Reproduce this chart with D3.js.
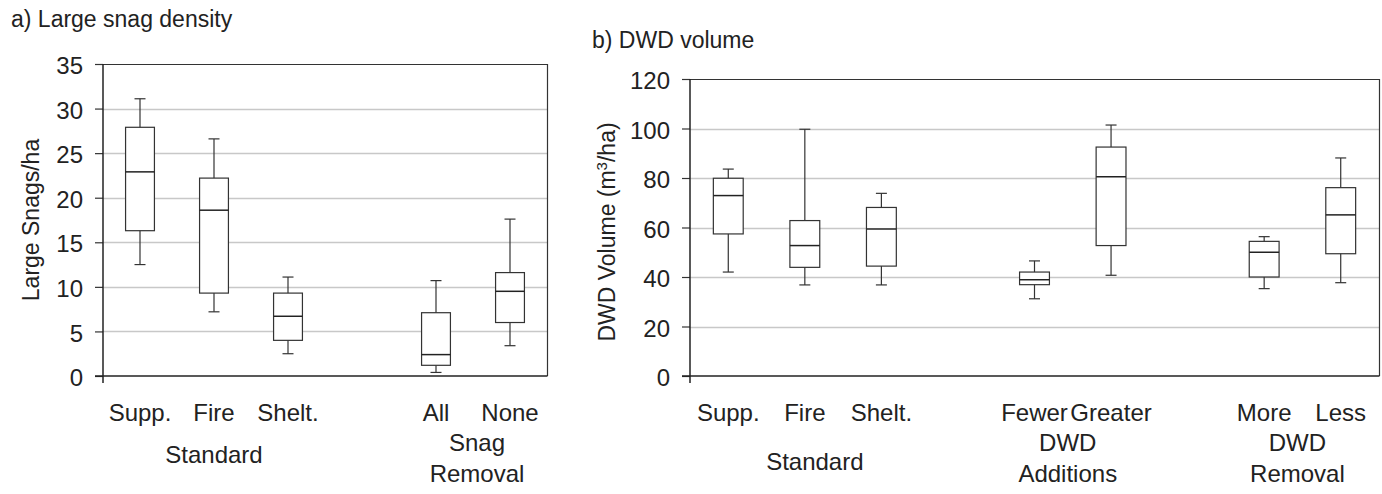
<!DOCTYPE html>
<html>
<head>
<meta charset="utf-8">
<script src="https://cdn.jsdelivr.net/npm/d3@7"></script>
<style>
  body { margin: 0; background: #fff; }
  text { font-family: Arial, "Liberation Sans", sans-serif; fill: #222; }
</style>
</head>
<body>
<div id="chart"></div>
<script>
// a) large snag density
var snagCats = ['Supp.', 'Fire', 'Shelt.', 'All', 'None']
var snagGroupOf = [0, 0, 0, 1, 1]
var snagGroups = [['Standard'], ['Snag', 'Removal']]
var snagMin = [12.5, 7.2, 2.5, 0.4, 3.4]
var snagQ1 = [16.3, 9.3, 4.0, 1.2, 6.0]
var snagMed = [22.9, 18.6, 6.7, 2.4, 9.5]
var snagQ3 = [27.9, 22.2, 9.3, 7.1, 11.6]
var snagMax = [31.1, 26.6, 11.1, 10.7, 17.6]
var snagTicks = [0, 5, 10, 15, 20, 25, 30, 35]

// b) DWD volume
var dwdCats = ['Supp.', 'Fire', 'Shelt.', 'Fewer', 'Greater', 'More', 'Less']
var dwdGroupOf = [0, 0, 0, 1, 1, 2, 2]
var dwdGroups = [['Standard'], ['DWD', 'Additions'], ['DWD', 'Removal']]
var dwdMin = [42.0, 36.8, 36.8, 31.2, 40.7, 35.3, 37.7]
var dwdQ1 = [57.4, 43.9, 44.4, 36.9, 52.7, 40.0, 49.4]
var dwdMed = [72.9, 52.7, 59.4, 38.9, 80.5, 50.0, 65.1]
var dwdQ3 = [79.9, 62.8, 68.1, 42.0, 92.5, 54.4, 76.1]
var dwdMax = [83.6, 99.7, 73.8, 46.5, 101.4, 56.3, 88.1]
var dwdTicks = [0, 20, 40, 60, 80, 100, 120]

var svg = d3.select('#chart').append('svg')
  .attr('width', 1382)
  .attr('height', 494)

function drawBoxPanel(p) {
  // slot domain with an empty slot between groups
  var slots = []
  p.cats.forEach(function(c, i) {
    if (i > 0 && p.groupOf[i] != p.groupOf[i - 1]) slots.push('gap' + i)
    slots.push(c)
  })

  var x = d3.scaleBand().domain(slots).range([p.left, p.right])
  var y = d3.scaleLinear().domain([0, d3.max(p.ticks)]).range([p.bottom, p.top])
  var boxW = x.bandwidth() * 0.39
  var capW = 11

  var data = p.cats.map(function(c, i) {
    return { cat: c, min: p.min[i], q1: p.q1[i], med: p.med[i], q3: p.q3[i], max: p.max[i] }
  })

  var g = svg.append('g')

  // gridlines
  g.selectAll('.grid')
    .data(p.ticks.slice(1, -1))
    .enter().append('line')
    .attr('x1', p.left).attr('x2', p.right)
    .attr('y1', d => Math.round(y(d)) + 0.5).attr('y2', d => Math.round(y(d)) + 0.5)
    .attr('stroke', '#c8c8c8').attr('stroke-width', 1.3)

  // frame top + right
  g.append('path')
    .attr('d', 'M' + p.left + ',' + (Math.round(p.top) + 0.5) + 'H' + (p.right + 0.5) + 'V' + p.bottom)
    .attr('fill', 'none').attr('stroke', '#333').attr('stroke-width', 1.2)

  // y axis
  var yAxis = d3.axisLeft(y).tickValues(p.ticks).tickSize(8).tickPadding(12).tickFormat(d3.format('d'))
  var ya = g.append('g')
    .attr('transform', 'translate(' + p.left + ',0)')
    .call(yAxis)
  ya.select('.domain').remove()
  ya.selectAll('.tick line').attr('stroke', '#333').attr('stroke-width', 1.2)
  ya.selectAll('.tick text').style('font-size', '24px').attr('fill', '#222').attr('dy', '0.4em')
  g.append('line')
    .attr('x1', p.left).attr('x2', p.left)
    .attr('y1', p.top).attr('y2', p.bottom + 7)
    .attr('stroke', '#222').attr('stroke-width', 1.5)

  // x axis line
  g.append('line')
    .attr('x1', p.left - 8).attr('x2', p.right + 0.5)
    .attr('y1', p.bottom).attr('y2', p.bottom)
    .attr('stroke', '#222').attr('stroke-width', 1.5)

  // boxes
  var box = g.selectAll('.box')
    .data(data)
    .enter().append('g')
    .attr('class', 'box')
    .attr('transform', d => 'translate(' + (x(d.cat) + x.bandwidth() / 2) + ',0)')

  box.append('line')
    .attr('x1', 0).attr('x2', 0)
    .attr('y1', d => y(d.max)).attr('y2', d => y(d.min))
    .attr('stroke', '#333').attr('stroke-width', 1.2)
  box.append('line')
    .attr('x1', -capW / 2).attr('x2', capW / 2)
    .attr('y1', d => y(d.max)).attr('y2', d => y(d.max))
    .attr('stroke', '#333').attr('stroke-width', 1.2)
  box.append('line')
    .attr('x1', -capW / 2).attr('x2', capW / 2)
    .attr('y1', d => y(d.min)).attr('y2', d => y(d.min))
    .attr('stroke', '#333').attr('stroke-width', 1.2)
  box.append('rect')
    .attr('x', -boxW / 2).attr('width', boxW)
    .attr('y', d => y(d.q3)).attr('height', d => y(d.q1) - y(d.q3))
    .attr('fill', '#fff').attr('stroke', '#333').attr('stroke-width', 1.2)
  box.append('line')
    .attr('x1', -boxW / 2).attr('x2', boxW / 2)
    .attr('y1', d => y(d.med)).attr('y2', d => y(d.med))
    .attr('stroke', '#222').attr('stroke-width', 1.5)

  // category labels
  g.selectAll('.cat')
    .data(p.cats)
    .enter().append('text')
    .attr('x', d => x(d) + x.bandwidth() / 2)
    .attr('y', 421)
    .attr('text-anchor', 'middle')
    .style('font-size', '24px')
    .text(d => d)

  // group labels
  p.groups.forEach(function(lines, gi) {
    var members = p.cats.filter((c, i) => p.groupOf[i] == gi)
    var cx = d3.mean(members, c => x(c) + x.bandwidth() / 2) + (p.groupShift[gi] || 0)
    var t = g.append('text')
      .attr('text-anchor', 'middle')
      .style('font-size', '24px')
    if (lines.length == 1) {
      t.attr('x', cx).attr('y', p.singleY).text(lines[0])
    } else {
      lines.forEach(function(l, li) {
        t.append('tspan').attr('x', cx).attr('y', 451 + li * 31).text(l)
      })
    }
  })

  // y title
  var yt = g.append('text')
    .attr('transform', 'translate(' + p.ytX + ',' + p.ytY + ') rotate(-90)')
    .attr('text-anchor', 'middle')
    .style('font-size', '23px')
  p.yTitle.forEach(function(part) {
    var ts = yt.append('tspan').text(part.t)
    if (part.sup) ts.attr('baseline-shift', 'super').style('font-size', '15px')
  })

  // panel title
  svg.append('text')
    .attr('x', p.titleX).attr('y', p.titleY)
    .style('font-size', '23px')
    .text(p.title)
}

drawBoxPanel({
  cats: snagCats, groupOf: snagGroupOf, groups: snagGroups, groupShift: [0, 4],
  min: snagMin, q1: snagQ1, med: snagMed, q3: snagQ3, max: snagMax, ticks: snagTicks,
  left: 103, right: 547, top: 64, bottom: 376, singleY: 463,
  ytX: 39, ytY: 220, yTitle: [{ t: 'Large Snags/ha' }],
  title: 'a) Large snag density', titleX: 11, titleY: 27
})

drawBoxPanel({
  cats: dwdCats, groupOf: dwdGroupOf, groups: dwdGroups, groupShift: [10, -5, -5],
  min: dwdMin, q1: dwdQ1, med: dwdMed, q3: dwdQ3, max: dwdMax, ticks: dwdTicks,
  left: 690, right: 1379, top: 79, bottom: 376, singleY: 470,
  ytX: 615, ytY: 232, yTitle: [{ t: 'DWD Volume (m' }, { t: '3', sup: true }, { t: '/ha)' }],
  title: 'b) DWD volume', titleX: 592, titleY: 48
})
</script>
</body>
</html>
